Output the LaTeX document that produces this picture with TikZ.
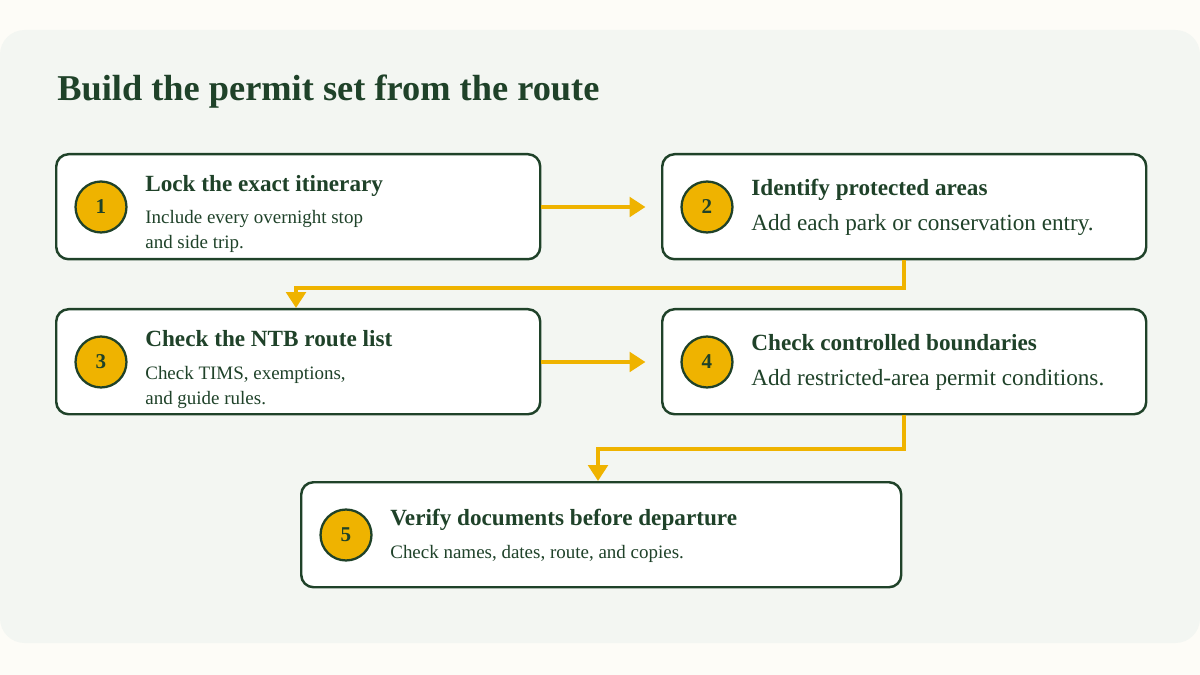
\documentclass[tikz,border=0pt]{standalone}
\usepackage{fontspec}
\setmainfont{Liberation Serif}
\usetikzlibrary{positioning,arrows.meta}
\definecolor{cream}{HTML}{FDFCF7}
\definecolor{panel}{HTML}{F3F6F2}
\definecolor{dkgreen}{HTML}{1F4229}
\definecolor{gold}{HTML}{EFB300}
\tikzset{
  stepbox/.style={draw=dkgreen, line width=1.4pt, rounded corners=7pt, fill=white, anchor=north west, inner sep=0pt},
  num/.style={circle, draw=dkgreen, line width=1.3pt, fill=gold, minimum size=29pt, inner sep=0pt, font=\bfseries\fontsize{12}{13}\selectfont, text=dkgreen},
  head/.style={anchor=base west, font=\bfseries\fontsize{13.2}{15}\selectfont, text=dkgreen, inner sep=0pt},
  sub/.style={anchor=base west, font=\fontsize{10.8}{14}\selectfont, text=dkgreen, inner sep=0pt, align=left},
  bigsub/.style={anchor=base west, font=\fontsize{13.2}{15}\selectfont, text=dkgreen, inner sep=0pt},
  flow/.style={draw=gold, line width=2.3pt, -{Triangle[length=9pt,width=11pt]}}
}
\begin{document}
\begin{tikzpicture}[x=0.02cm, y=-0.02cm]
  \fill[cream] (0,0) rectangle (1200,675);
  \fill[panel, rounded corners=14pt] (0,30) rectangle (1200,643);
  \useasboundingbox (0,0) rectangle (1200,675);
  \node[anchor=base west, inner sep=0pt, font=\bfseries\fontsize{20.7}{23}\selectfont, text=dkgreen] (title) at (57,101) {Build the permit set from the route};

  % steps
  \node[stepbox, minimum width=484*0.02cm, minimum height=105*0.02cm] (s1) at (55,153) {};
  \node[stepbox, minimum width=484*0.02cm, minimum height=105*0.02cm] (s2) at (661,153) {};
  \node[stepbox, minimum width=484*0.02cm, minimum height=105*0.02cm] (s3) at (55,308) {};
  \node[stepbox, minimum width=484*0.02cm, minimum height=105*0.02cm] (s4) at (661,308) {};
  \node[stepbox, minimum width=600*0.02cm, minimum height=105*0.02cm] (s5) at (300,481) {};

  \node[num] (n1) at (101,207) {1};
  \node[num] (n2) at (707,207) {2};
  \node[num] (n3) at (101,362) {3};
  \node[num] (n4) at (707,362) {4};
  \node[num] (n5) at (346,535) {5};

  \node[head] (h1) at (145,192) {Lock the exact itinerary};
  \node[sub] (t1) at (145,224) {Include every overnight stop};
  \node[sub] (u1) at (145,249) {and side trip.};
  \node[head] (h2) at (751,196) {Identify protected areas};
  \node[bigsub] (t2) at (751,231) {Add each park or conservation entry.};
  \node[head] (h3) at (145,347) {Check the NTB route list};
  \node[sub] (t3) at (145,379) {Check TIMS, exemptions,};
  \node[sub] (u3) at (145,404) {and guide rules.};
  \node[head] (h4) at (751,351) {Check controlled boundaries};
  \node[bigsub] (t4) at (751,386) {Add restricted-area permit conditions.};
  \node[head] (h5) at (390,525) {Verify documents before departure};
  \node[sub] (t5) at (390,558) {Check names, dates, route, and copies.};

  % connectors
  \coordinate (k1) at (904,288);
  \coordinate (k2) at (296,288);
  \coordinate (k3) at (904,449);
  \coordinate (k4) at (598,449);
  \draw[flow] (s1.east |- n1) -- ++(104,0) coordinate (e1);
  \draw[flow] (s3.east |- n3) -- ++(104,0) coordinate (e3);
  \draw[flow] (s2.south -| k1) -- (k1) -- (k2) -- (k2 |- s3.north);
  \draw[flow] (s4.south -| k3) -- (k3) -- (k4) -- (k4 |- s5.north);
\end{tikzpicture}
\end{document}
